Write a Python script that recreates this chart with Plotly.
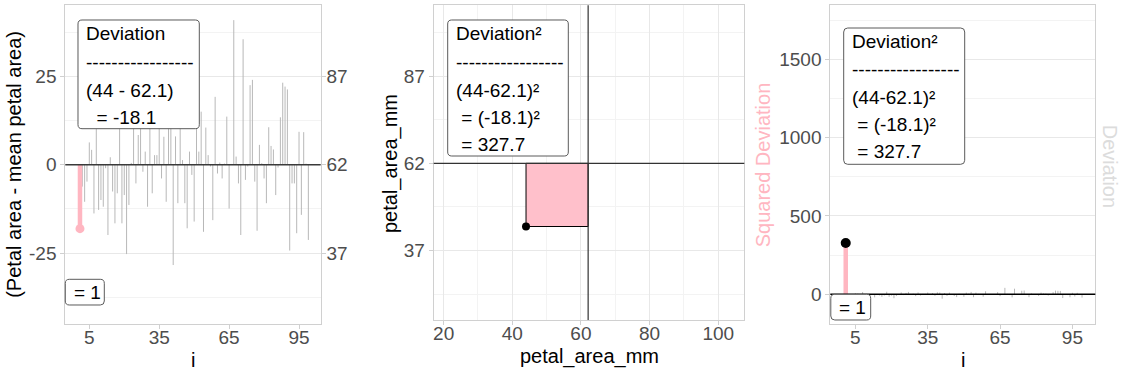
import plotly.graph_objects as go

# ---------------- data ----------------
i_vals = list(range(1, 100))
deviation = [
    -18.1, -6.2, -10.5, -4.8, 6.3, 4.2, -13.8, 14.0, -12.8, -10.0,
    -11.9, -1.0, -19.9, 2.1, -7.6, -16.6, -8.1, 16.0, -16.6, -8.6,
    -25.3, -11.4, 0.5, 12.0, -5.3, 8.4, 15.0, -2.0, 3.7, -11.9,
    11.5, -8.1, 2.7, 2.7, 11.0, -3.9, 7.9, -10.5, 12.5, 11.0,
    -28.4, 8.0, -10.9, 10.5, 1.3, -10.9, -18.0, 3.7, -2.9, -16.1,
    10.5, 3.7, 15.0, -19.0, 10.5, 2.7, -0.5, -15.7, 19.2, -2.5,
    0.6, -3.9, 0.3, 13.6, -12.4, 0.2, 40.9, 2.3, -5.3, -19.9,
    35.5, -4.3, -0.5, 22.5, 24.0, -4.8, -18.7, 5.6, 0.4, -3.9,
    -10.9, 10.6, 5.3, 4.3, -8.6, -0.8, 13.4, 23.2, 22.1, 21.3,
    -24.3, -5.3, -5.3, -19.4, 9.3, -14.2, 9.2, 0.3, -21.3,
]
mean_area = 62.1
sel_i = 1
sel_area = 44
sel_dev = -18.1
sel_sq = 327.7

dev_ticks = [-25, 0, 25]
area_ticks_x = [20, 40, 60, 80, 100]
sq_ticks = [0, 500, 1000, 1500]
i_ticks = [5, 35, 65, 95]

# ---------------- style / layout helpers ----------------
W, H = 1125, 375
FONT = "Liberation Sans, Arial, sans-serif"
PINK = "#FFB6C1"
RECT_PINK = "#FFC0CB"
BORDER = "#d0d0d0"
GRID = "#e8e8e8"
GRIDMINOR = "#f3f3f3"
TICKC = "#d0d0d0"
TF = dict(family=FONT, size=19, color="#4d4d4d")


def fx(x):
    return x / W


def fy(y):
    return 1 - y / H


P1 = (65.3, 5.3, 320.7, 323.7)
P2 = (433.7, 5.3, 744.3, 320.0)
P3 = (830.3, 5.3, 1095.3, 323.7)

r1 = [-5.3, 104.3]
y1r = [-45.0, 45.1]
x2r = [17.1, 107.6]
y2r = [17.2, 107.4]
r3 = [-5.4, 104.5]
y3r = [-188, 1845]


def rug_y(yr, box, off=2.6):
    per = (box[3] - box[1]) / (yr[1] - yr[0])
    return yr[0] - off / per


fig = go.Figure()

# ---------- panel 1 ----------
xs, ys = [], []
for i, d in zip(i_vals, deviation):
    if i == sel_i:
        continue
    xs += [i, i, None]
    ys += [0, d, None]
fig.add_trace(go.Scatter(x=xs, y=ys, mode="lines", line=dict(color="#b8b8b8", width=1),
                         xaxis="x", yaxis="y", hoverinfo="skip", showlegend=False))
fig.add_trace(go.Scatter(x=[sel_i, sel_i], y=[0, sel_dev], mode="lines",
                         line=dict(color=PINK, width=4.5), xaxis="x", yaxis="y", showlegend=False))
fig.add_trace(go.Scatter(x=[sel_i], y=[sel_dev], mode="markers",
                         marker=dict(color=PINK, size=9), xaxis="x", yaxis="y", showlegend=False))
fig.add_trace(go.Scatter(x=i_vals, y=[rug_y(y1r, P1)] * len(i_vals), mode="markers",
                         marker=dict(symbol="line-ns", size=3, line=dict(color="#c4c4c4", width=1)),
                         cliponaxis=False, xaxis="x", yaxis="y", showlegend=False, hoverinfo="skip"))
# invisible trace so the secondary (petal area) axis is drawn
fig.add_trace(go.Scatter(x=[sel_i], y=[sel_dev], mode="markers", opacity=0,
                         xaxis="x", yaxis="y4", showlegend=False, hoverinfo="skip"))

# ---------- panel 2 ----------
fig.add_trace(go.Scatter(x=[sel_area, mean_area, mean_area, sel_area, sel_area],
                         y=[sel_area, sel_area, mean_area, mean_area, sel_area],
                         mode="lines", fill="toself", fillcolor=RECT_PINK,
                         line=dict(color="black", width=1), xaxis="x2", yaxis="y2", showlegend=False))
fig.add_trace(go.Scatter(x=[sel_area], y=[sel_area], mode="markers",
                         marker=dict(color="black", size=8), xaxis="x2", yaxis="y2", showlegend=False))

# ---------- panel 3 ----------
xs3, ys3 = [], []
for i, d in zip(i_vals, deviation):
    if i == sel_i:
        continue
    xs3 += [i, i, None]
    ys3 += [0, d, None]
fig.add_trace(go.Scatter(x=xs3, y=ys3, mode="lines", line=dict(color="#b8b8b8", width=1),
                         xaxis="x3", yaxis="y3", hoverinfo="skip", showlegend=False))
fig.add_trace(go.Scatter(x=[sel_i, sel_i], y=[0, sel_sq], mode="lines",
                         line=dict(color=PINK, width=4.5), xaxis="x3", yaxis="y3", showlegend=False))
fig.add_trace(go.Scatter(x=[sel_i], y=[sel_sq], mode="markers",
                         marker=dict(color="black", size=10), xaxis="x3", yaxis="y3", showlegend=False))
fig.add_trace(go.Scatter(x=i_vals, y=[rug_y(y3r, P3)] * len(i_vals), mode="markers",
                         marker=dict(symbol="line-ns", size=3, line=dict(color="#c4c4c4", width=1)),
                         cliponaxis=False, xaxis="x3", yaxis="y3", showlegend=False, hoverinfo="skip"))


def common_axis(**kw):
    d = dict(showline=True, mirror=True, linecolor=BORDER, linewidth=1, zeroline=False,
             ticks="outside", ticklen=4, tickcolor=TICKC, tickfont=TF, automargin=False)
    d.update(kw)
    return d


fig.update_layout(
    width=W, height=H, margin=dict(l=0, r=0, t=0, b=0, autoexpand=False),
    paper_bgcolor="white", plot_bgcolor="white",
    font=dict(family=FONT, size=19, color="black"),
    showlegend=False,
    xaxis=common_axis(domain=[fx(P1[0]), fx(P1[2])], range=r1, tickvals=i_ticks,
                      showgrid=False, anchor="y", ticklabelstandoff=-8),
    yaxis=common_axis(domain=[fy(P1[3]), fy(P1[1])], range=y1r, tickvals=dev_ticks,
                      ticktext=[str(v) for v in dev_ticks], showgrid=True, gridcolor=GRID,
                      minor=dict(tickvals=[-37.5, -12.5, 12.5, 37.5], showgrid=True,
                                 gridcolor=GRIDMINOR, ticks=""),
                      anchor="x"),
    yaxis4=dict(overlaying="y", side="right", range=y1r, tickvals=dev_ticks,
                ticktext=[str(round(mean_area + v)) for v in dev_ticks],
                showgrid=False, zeroline=False, showline=False, ticks="outside",
                ticklen=4, tickcolor=TICKC, tickfont=TF, anchor="x", automargin=False,
                ticklabelstandoff=-3),
    xaxis2=common_axis(domain=[fx(P2[0]), fx(P2[2])], range=x2r, tickvals=area_ticks_x,
                       showgrid=True, gridcolor=GRID,
                       minor=dict(tickvals=[30, 50, 70, 90], showgrid=True,
                                  gridcolor=GRIDMINOR, ticks=""),
                       anchor="y2", ticklabelstandoff=-8),
    yaxis2=common_axis(domain=[fy(P2[3]), fy(P2[1])], range=y2r,
                       tickvals=[mean_area + v for v in dev_ticks],
                       ticktext=[str(round(mean_area + v)) for v in dev_ticks],
                       showgrid=True, gridcolor=GRID,
                       minor=dict(tickvals=[mean_area - 37.5, mean_area - 12.5,
                                            mean_area + 12.5, mean_area + 37.5],
                                  showgrid=True, gridcolor=GRIDMINOR, ticks=""),
                       anchor="x2"),
    xaxis3=common_axis(domain=[fx(P3[0]), fx(P3[2])], range=r3, tickvals=i_ticks,
                       showgrid=False, anchor="y3", ticklabelstandoff=-8),
    yaxis3=common_axis(domain=[fy(P3[3]), fy(P3[1])], range=y3r, tickvals=sq_ticks,
                       showgrid=True, gridcolor=GRID,
                       minor=dict(tickvals=[250, 750, 1250, 1750], showgrid=True,
                                  gridcolor=GRIDMINOR, ticks=""),
                       anchor="x3"),
)

shapes = []
# reference lines
shapes.append(dict(type="line", xref="x domain", x0=0, x1=1, yref="y", y0=0, y1=0,
                   line=dict(color="#3a3a3a", width=1.5), layer="above"))
shapes.append(dict(type="line", xref="x2 domain", x0=0, x1=1, yref="y2", y0=mean_area, y1=mean_area,
                   line=dict(color="#333333", width=1.2), layer="above"))
shapes.append(dict(type="line", xref="x2", x0=mean_area, x1=mean_area, yref="y2 domain", y0=0, y1=1,
                   line=dict(color="#333333", width=1.2), layer="above"))
shapes.append(dict(type="line", xref="x3 domain", x0=0, x1=1, yref="y3", y0=0, y1=0,
                   line=dict(color="black", width=1.5), layer="above"))


def rrect(x0, y0, x1, y1, r=4):
    def p(x, y):
        return f"{fx(x):.6f},{fy(y):.6f}"
    return (f"M {p(x0 + r, y0)} L {p(x1 - r, y0)} Q {p(x1, y0)} {p(x1, y0 + r)} "
            f"L {p(x1, y1 - r)} Q {p(x1, y1)} {p(x1 - r, y1)} L {p(x0 + r, y1)} "
            f"Q {p(x0, y1)} {p(x0, y1 - r)} L {p(x0, y0 + r)} Q {p(x0, y0)} {p(x0 + r, y0)} Z")


for bx in [(78, 20, 199.3, 128.7), (65.3, 279.3, 104.3, 305),
           (447.7, 20, 568.3, 156), (843.7, 28, 964.7, 164.3), (830.8, 294.3, 870.7, 320)]:
    shapes.append(dict(type="path", path=rrect(*bx), xref="paper", yref="paper",
                       fillcolor="white", line=dict(color="#5a5a5a", width=1), layer="above"))
fig.update_layout(shapes=shapes)

NB = "\u00a0"
dashes = "-" * 17
ann = []


def txt(t, x, y, color="black", size=19, angle=0, xanchor="left"):
    ann.append(dict(text=t, x=fx(x), y=fy(y), xref="paper", yref="paper", showarrow=False,
                    xanchor=xanchor, yanchor="middle", textangle=angle,
                    font=dict(family=FONT, size=size, color=color)))


# panel 1 label
txt("Deviation", 84, 33.3)
txt(dashes, 84, 62.3)
txt(f"({sel_area} - {mean_area})", 84, 90)
txt(f"{NB}{NB}= {sel_dev}", 84, 117.3)
txt(f"= {sel_i}", 71.7, 292.7)
# panel 2 label
txt("Deviation²", 453.7, 33.3)
txt(dashes, 453.7, 62.3)
txt(f"({sel_area}-{mean_area})²", 453.7, 90)
txt(f"{NB}= ({sel_dev})²", 453.7, 117.3)
txt(f"{NB}= {sel_sq}", 453.7, 144)
# panel 3 label
txt("Deviation²", 850, 41.7)
txt(dashes, 850, 70)
txt(f"({sel_area}-{mean_area})²", 850, 97.7)
txt(f"{NB}= ({sel_dev})²", 850, 125)
txt(f"{NB}= {sel_sq}", 850, 151.7)
txt(f"= {sel_i}", 837.3, 307.7)

# axis titles
txt("i", 193, 360, size=20, xanchor="center")
txt("(Petal area - mean petal area)", 13.3, 164.5, size=20, angle=-90, xanchor="center")
txt("petal_area_mm", 589, 356.7, size=20, xanchor="center")
txt("petal_area_mm", 390, 164, size=20, angle=-90, xanchor="center")
txt("i", 962.8, 360, size=20, xanchor="center")
txt("Squared Deviation", 763.3, 165, size=20, angle=-90, color=PINK, xanchor="center")
txt("Deviation", 1110, 165.7, size=20, angle=90, color="#dcdcdc", xanchor="center")

fig.update_layout(annotations=ann)
fig.write_html("out.html", config={"displayModeBar": False},
               post_script="document.body.style.margin='0px';document.body.style.overflow='hidden';")
